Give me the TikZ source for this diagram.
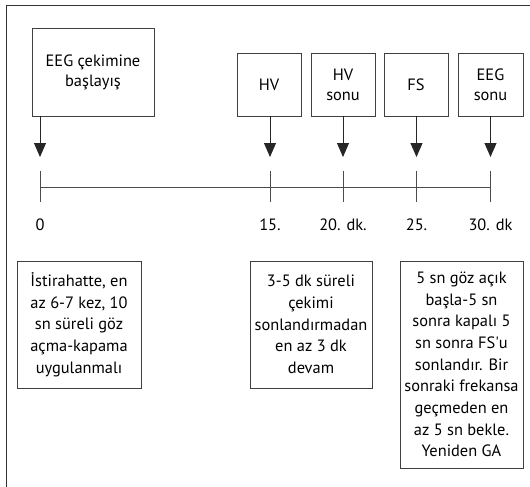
\documentclass[tikz,border=0pt]{standalone}
\usepackage{fontspec}
\setmainfont{PT Sans}
\usetikzlibrary{arrows.meta}
\begin{document}
\begin{tikzpicture}[x=1pt,y=-1pt,
  frameline/.style={draw=black!80,line width=1pt},
  box/.style={draw=black!75,line width=0.8pt,align=center,inner sep=0pt,
    font=\fontsize{16.4}{20}\selectfont,text=black},
  notebox/.style={box,font=\fontsize{16.4}{21.7}\selectfont},
  flow/.style={draw=black!85,line width=0.9pt,-{Triangle[width=12pt,length=14pt]}},
  axis/.style={draw=black!70,line width=1pt},
  tick/.style={draw=black!70,line width=1pt},
  ticklabel/.style={font=\fontsize{16.4}{17}\selectfont,text=black}]
\useasboundingbox (0,0) rectangle (530,487);
\fill[white] (0,0) rectangle (530,487);
% outer frame (open to the right and bottom)
\draw[frameline] (6.5,487) -- (6.5,5.5) -- (530,5.5);

% event boxes
\node[box,minimum width=122pt,minimum height=88pt] (start) at (93,72) {EEG çekimine\\başlayış};
\node[box,minimum width=64pt,minimum height=63pt] (hv) at (269,84.5) {HV};
\node[box,minimum width=64pt,minimum height=63pt] (hvend) at (343,84.5) {HV\\sonu};
\node[box,minimum width=64pt,minimum height=63pt] (fs) at (416,84.5) {FS};
\node[box,minimum width=65pt,minimum height=63pt] (eegend) at (490.5,84.5) {EEG\\sonu};

% time axis
\coordinate (t0) at (40,187);
\coordinate (t15) at (270,187);
\coordinate (t20) at (343,187);
\coordinate (t25) at (416.5,187);
\coordinate (t30) at (490.5,187);
\draw[axis] (t0) -- (t30);
\foreach \t in {t0,t15,t20,t25,t30}
  \draw[tick] ([yshift=16pt]\t) -- ([yshift=-15pt]\t);

% arrow tips just above the axis
\foreach \t in {t0,t15,t20,t25,t30}
  \coordinate (a\t) at ([yshift=30pt]\t);
\draw[flow] (start.south -| at0) -- (at0);
\draw[flow] (hv.south -| at15) -- (at15);
\draw[flow] (hvend.south -| at20) -- (at20);
\draw[flow] (fs.south -| at25) -- (at25);
\draw[flow] (eegend.south -| at30) -- (at30);

% axis labels
\node[ticklabel] (l0) at ([yshift=-38pt]t0) {0};
\node[ticklabel] (l15) at ([yshift=-38pt]t15) {15.};
\node[ticklabel] (l20) at ([yshift=-38pt]t20) {20. dk.};
\node[ticklabel] (l25) at ([yshift=-38pt]t25) {25.};
\node[ticklabel] (l30) at ([yshift=-38pt]t30) {30. dk};

% notes under the axis
\node[notebox,minimum width=124pt,minimum height=127pt] (n1) at (79,324.5)
  {İstirahatte, en\\az 6-7 kez, 10\\sn süreli göz\\açma-kapama\\uygulanmalı};
\node[notebox,minimum width=122pt,minimum height=127pt] (n2) at (311,324.5)
  {3-5 dk süreli\\çekimi\\sonlandırmadan\\en az 3 dk\\devam};
\node[notebox,minimum width=123pt,minimum height=207pt] (n3) at (461.5,364.5)
  {5 sn göz açık\\başla-5 sn\\sonra kapalı 5\\sn sonra FS\textquotesingle u\\sonlandır. Bir\\sonraki frekansa\\geçmeden en\\az 5 sn bekle.\\Yeniden GA};
\end{tikzpicture}
\end{document}
